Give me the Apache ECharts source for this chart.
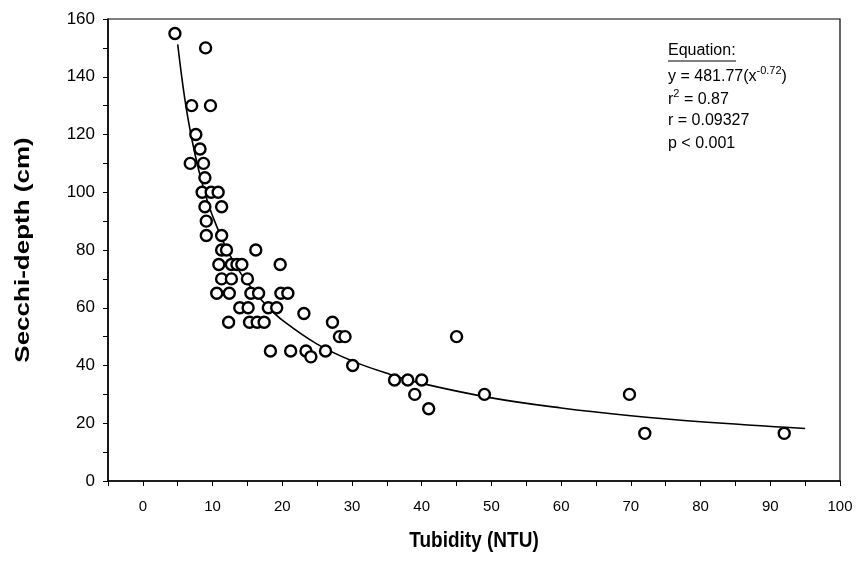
<!DOCTYPE html>
<html>
<head>
<meta charset="utf-8">
<script src="https://cdn.jsdelivr.net/npm/echarts@6/dist/echarts.min.js"></script>
<style>
html,body{margin:0;padding:0;background:#fff;}
#chart{width:857px;height:563px;}
</style>
</head>
<body>
<div id="chart"></div>
<script>
// Observed points: turbidity (NTU) and Secchi depth (cm)
var turbidity = [4.6,9,7,9.7,7.6,8.2,6.8,8.7,8.9,8.5,9.8,10.8,8.9,11.3,9.1,9.1,11.3,11.3,12,16.2,10.9,12.7,13.5,14.2,19.7,11.3,12.7,15,10.6,12.4,15.5,16.6,19.8,20.8,13.9,15.1,18,19.2,12.3,15.3,16.4,17.4,23.1,27.2,28.2,29,18.3,21.2,23.4,24.1,26.2,30.1,36.1,38,40,39,41,45,49,69.8,72,92];
var secchi    = [155,150,130,130,120,115,110,110,105,100,100,100,95,95,90,85,85,80,80,80,75,75,75,75,75,70,70,70,65,65,65,65,65,65,60,60,60,60,55,55,55,55,58,55,50,50,45,45,45,43,45,40,35,35,35,30,25,50,30,30,16.5,16.5];
// Fitted power curve as drawn
var fitX = [5,6,7,8,9,10,12,14,16,18,20,25,30,35,40,50,60,70,80,95];
var fitY = [151.2,132.6,118.7,107.8,99.0,91.8,80.5,72.1,65.5,60.1,55.7,47.4,41.6,37.3,33.8,28.8,25.3,22.6,20.5,18.2];
var xTickLabels = [0,10,20,30,40,50,60,70,80,90,100];
var yTickLabels = [0,20,40,60,80,100,120,140,160];
var xTitle = 'Tubidity (NTU)';
var yTitle = 'Secchi-depth (cm)';
var eqLines = ['Equation:', 'y = 481.77(x', '-0.72', ')', '0.87', '0.09327', '0.001'];

var FONT = '"Liberation Sans", Arial, sans-serif';
var chart = echarts.init(document.getElementById('chart'), null, {renderer:'canvas'});
var pts = turbidity.map(function(x,i){return [x, secchi[i]];});
var fit = fitX.map(function(x,i){return [x, fitY[i]];});
var EQ = '16px ' + FONT, SUP = '11px ' + FONT;

chart.setOption({
  animation:false,
  backgroundColor:'#fff',
  grid:{left:108,right:17,top:19,bottom:82,show:true,borderColor:'#000',borderWidth:1.2,backgroundColor:'transparent'},
  xAxis:{
    type:'value',min:-5,max:100,interval:5,
    axisLine:{show:true,onZero:false,lineStyle:{color:'#000',width:1.5}},
    axisTick:{show:true,length:5,lineStyle:{color:'#000',width:1}},
    splitLine:{show:false},
    axisLabel:{margin:18,fontFamily:FONT,fontSize:15,color:'#000',
      formatter:function(v){return xTickLabels.indexOf(v)>=0?String(v):'';}}
  },
  yAxis:{
    type:'value',min:0,max:160,interval:10,
    axisLine:{show:true,onZero:false,lineStyle:{color:'#000',width:1.5}},
    axisTick:{show:true,length:5,lineStyle:{color:'#000',width:1}},
    splitLine:{show:false},
    axisLabel:{margin:13,fontFamily:FONT,fontSize:17,color:'#000',
      formatter:function(v){return yTickLabels.indexOf(v)>=0?String(v):'';}}
  },
  series:[
    {type:'line',data:fit,smooth:0.4,symbol:'none',lineStyle:{color:'#000',width:1.6},z:3},
    {type:'scatter',data:pts,symbol:'circle',symbolSize:11,
     itemStyle:{color:'#fff',borderColor:'#000',borderWidth:2.4,opacity:1},z:4}
  ],
  graphic:[
    {type:'text',x:474,y:541,scaleY:1.15,style:{text:xTitle,font:'bold 19px '+FONT,fill:'#000',align:'center',verticalAlign:'middle'}},
    {type:'text',x:23,y:250,rotation:Math.PI/2,scaleX:1.3,style:{text:yTitle,font:'bold 20px '+FONT,fill:'#000',align:'center',verticalAlign:'middle'}},
    {type:'text',left:668,top:43,style:{text:eqLines[0],font:EQ,fill:'#000'}},
    {type:'line',shape:{x1:668,y1:61,x2:736,y2:61},style:{stroke:'#000',lineWidth:1}},
    {type:'text',left:668,top:65,style:{
      text:'{a|'+eqLines[1]+'}{s|'+eqLines[2]+'}{a|'+eqLines[3]+'}',
      rich:{a:{font:EQ,fill:'#000',lineHeight:20,verticalAlign:'bottom'},
            s:{font:SUP,fill:'#000',lineHeight:20,verticalAlign:'top'}}}},
    {type:'text',left:668,top:88,style:{
      text:'{a|r}{s|2}{a| = '+eqLines[4]+'}',
      rich:{a:{font:EQ,fill:'#000',lineHeight:20,verticalAlign:'bottom'},
            s:{font:SUP,fill:'#000',lineHeight:20,verticalAlign:'top'}}}},
    {type:'text',left:668,top:113,style:{text:'r = '+eqLines[5],font:EQ,fill:'#000'}},
    {type:'text',left:668,top:136,style:{text:'p < '+eqLines[6],font:EQ,fill:'#000'}}
  ]
});
</script>
</body>
</html>
